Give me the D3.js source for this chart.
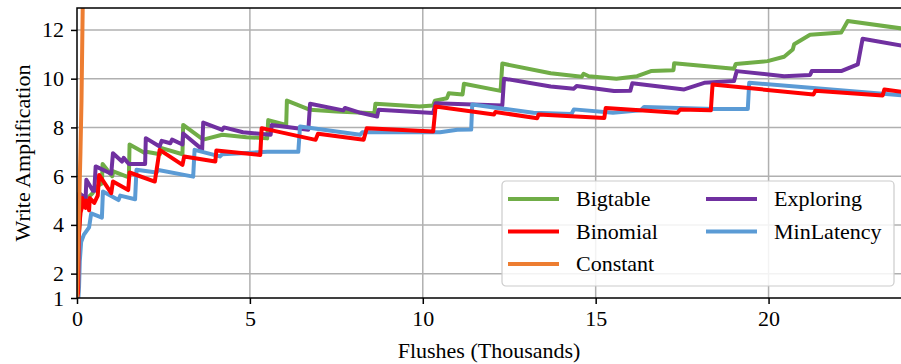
<!DOCTYPE html>
<html>
<head>
<meta charset="utf-8">
<script src="https://cdn.jsdelivr.net/npm/d3@7"></script>
<style>
  body { margin: 0; background: #fff; }
  svg text { font-family: "Liberation Serif", "Times New Roman", serif; fill: #000; }
</style>
</head>
<body>
<div class="graph"></div>
<script>
// Chart size
const width = 901;
const height = 364;
const margin = { top: 8, right: 0, bottom: 66, left: 77 };

// Series (x in thousands of flushes, y = write amplification)
const bigtable = [
  [0, 1], [0.05, 3.5], [0.1, 4.6], [0.2, 5.0], [0.3, 5.1], [0.45, 5.3], [0.6, 5.6], [0.72, 5.7],
  [0.74, 6.5], [1.02, 6.0], [1.05, 6.2], [1.5, 5.95], [1.52, 7.3], [1.96, 6.95], [2.0, 7.0],
  [2.4, 6.9], [2.45, 7.15], [3.05, 6.9], [3.07, 8.1], [3.65, 7.5], [4.2, 7.7], [4.9, 7.6],
  [5.5, 7.55], [5.53, 8.3], [6.05, 8.1], [6.07, 9.1], [6.74, 8.72], [7.5, 8.65], [8.6, 8.58],
  [8.63, 8.97], [9.9, 8.86], [10.3, 8.9], [10.35, 9.1], [10.7, 9.2], [10.75, 9.4], [11.15, 9.35],
  [11.19, 9.79], [12.25, 9.5], [12.3, 10.62], [13.7, 10.22], [14.6, 10.08], [14.65, 10.2],
  [14.8, 10.1], [15.6, 10.0], [16.2, 10.1], [16.6, 10.31], [17.25, 10.35], [17.27, 10.63],
  [19.0, 10.41], [19.05, 10.6], [19.97, 10.72], [20.45, 10.9], [20.7, 11.2], [20.74, 11.41],
  [21.2, 11.8], [22.1, 11.89], [22.29, 12.37], [23.9, 12.05]
];
const binomial = [
  [0, 1], [0.03, 1.2], [0.05, 3.5], [0.1, 4.5], [0.14, 4.7], [0.15, 5.1], [0.25, 4.7], [0.27, 5.0],
  [0.35, 4.6], [0.37, 5.1], [0.5, 4.9], [0.6, 5.2], [0.64, 6.05], [0.99, 5.3], [1.04, 5.78],
  [1.48, 5.43], [1.52, 6.15], [2.25, 5.78], [2.39, 7.08], [3.05, 6.46], [3.1, 6.81], [4.0, 6.6],
  [4.03, 7.05], [5.3, 6.87], [5.34, 7.97], [6.9, 7.49], [6.97, 7.74], [8.29, 7.49], [8.38, 7.97],
  [10.3, 7.83], [10.37, 8.86], [12.06, 8.53], [12.1, 8.63], [13.31, 8.38], [13.35, 8.53],
  [15.25, 8.39], [15.29, 8.8], [17.36, 8.6], [17.45, 8.74], [18.33, 8.7], [18.38, 9.76],
  [21.3, 9.35], [21.35, 9.5], [23.3, 9.31], [23.35, 9.56], [23.9, 9.45]
];
const constant = [
  [0, 1], [0.03, 3], [0.06, 4.7], [0.1, 7], [0.13, 9.1], [0.165, 12.9], [0.19, 14]
];
const exploring = [
  [0, 4.1], [0.05, 4.6], [0.07, 5.3], [0.25, 5.1], [0.27, 5.85], [0.46, 5.4], [0.5, 5.4],
  [0.54, 6.4], [0.99, 6.1], [1.04, 6.94], [1.3, 6.6], [1.35, 6.75], [1.5, 6.5], [1.97, 6.5],
  [1.99, 7.56], [2.39, 7.22], [2.45, 7.45], [2.7, 7.35], [2.75, 7.5], [3.05, 7.3], [3.07, 7.75],
  [3.62, 7.1], [3.65, 8.2], [4.2, 7.9], [4.25, 8.0], [4.8, 7.8], [5.6, 7.7], [5.63, 8.1],
  [6.69, 7.9], [6.74, 8.97], [7.7, 8.7], [7.75, 8.8], [8.2, 8.6], [8.68, 8.45], [8.72, 8.72],
  [10.3, 8.59], [10.37, 8.99], [12.3, 8.9], [12.35, 10.0], [13.7, 9.68], [14.37, 9.59],
  [14.45, 9.7], [15.53, 9.49], [16.0, 9.5], [16.06, 9.81], [17.56, 9.56], [18.14, 9.83],
  [19.0, 9.9], [19.08, 10.31], [20.45, 10.1], [21.2, 10.15], [21.25, 10.31], [22.1, 10.31],
  [22.58, 10.59], [22.72, 11.64], [23.9, 11.34]
];
const minLatency = [
  [0.04, 1], [0.06, 1.5], [0.08, 2.5], [0.12, 3.3], [0.2, 3.6], [0.35, 3.9], [0.41, 4.47],
  [0.72, 4.3], [0.75, 5.37], [1.2, 5.02], [1.25, 5.2], [1.68, 5.05], [1.72, 6.26], [2.3, 6.15],
  [2.35, 6.25], [3.36, 5.98], [3.4, 7.08], [4.13, 6.81], [4.2, 6.9], [5.5, 7.0], [6.4, 7.0],
  [6.45, 8.04], [8.19, 7.7], [8.25, 7.8], [10.5, 7.8], [11.0, 7.9], [11.4, 7.91], [11.43, 8.94],
  [13.2, 8.6], [14.3, 8.55], [14.37, 8.74], [15.5, 8.6], [16.3, 8.7], [16.4, 8.84], [18.43, 8.76],
  [19.4, 8.76], [19.44, 9.83], [23.9, 9.31]
];

// Axis settings
const xTicks = [0, 5, 10, 15, 20];
const yTicks = [1, 2, 4, 6, 8, 10, 12];

// Drawing order matches the figure (orange on top of the others at the start)
const series = [
  { name: "Bigtable", data: bigtable, color: "#70ad47" },
  { name: "Exploring", data: exploring, color: "#7030a0" },
  { name: "MinLatency", data: minLatency, color: "#5b9bd5" },
  { name: "Binomial", data: binomial, color: "#ff0000" },
  { name: "Constant", data: constant, color: "#ed7d31" }
];
const legendOrder = ["Bigtable", "Binomial", "Constant", "Exploring", "MinLatency"];

const fontSize = "22px";

const svg = d3.select(".graph")
  .append("svg")
  .attr("width", width)
  .attr("height", height);

// Scales
const x = d3.scaleLinear().domain([0, 23.83]).range([margin.left, width - margin.right]);
const y = d3.scaleLinear().domain([1, 12.9]).range([height - margin.bottom, margin.top]);

// Gridlines
svg.append("g")
  .selectAll("line")
  .data(xTicks.filter(d => d > 0))
  .join("line")
  .attr("x1", d => x(d)).attr("x2", d => x(d))
  .attr("y1", y.range()[1]).attr("y2", y.range()[0])
  .attr("stroke", "#b0b0b0").attr("stroke-width", 1.5);

svg.append("g")
  .selectAll("line")
  .data(yTicks.filter(d => d > 1))
  .join("line")
  .attr("x1", x.range()[0]).attr("x2", x.range()[1])
  .attr("y1", d => y(d)).attr("y2", d => y(d))
  .attr("stroke", "#b0b0b0").attr("stroke-width", 1.5);

// Clip to plot area
svg.append("clipPath").attr("id", "clip")
  .append("rect")
  .attr("x", x.range()[0]).attr("y", y.range()[1])
  .attr("width", x.range()[1] - x.range()[0])
  .attr("height", y.range()[0] - y.range()[1]);

const line = d3.line().x(d => x(d[0])).y(d => y(d[1]));

svg.append("g")
  .attr("clip-path", "url(#clip)")
  .selectAll("path")
  .data(series)
  .join("path")
  .attr("d", d => line(d.data))
  .attr("fill", "none")
  .attr("stroke", d => d.color)
  .attr("stroke-width", 4)
  .attr("stroke-linejoin", "round");

// Frame
svg.append("rect")
  .attr("x", x.range()[0]).attr("y", y.range()[1])
  .attr("width", x.range()[1] - x.range()[0] + 2)
  .attr("height", y.range()[0] - y.range()[1])
  .attr("fill", "none").attr("stroke", "#000").attr("stroke-width", 1.5);

// Axes
const xAxis = svg.append("g")
  .attr("transform", `translate(0, ${y.range()[0]})`)
  .call(d3.axisBottom(x).tickValues(xTicks).tickSize(6).tickPadding(6));
const yAxis = svg.append("g")
  .attr("transform", `translate(${x.range()[0]}, 0)`)
  .call(d3.axisLeft(y).tickValues(yTicks).tickSize(6).tickPadding(7));

[xAxis, yAxis].forEach(a => {
  a.select(".domain").remove();
  a.selectAll(".tick line").attr("stroke", "#000").attr("stroke-width", 1.5);
  a.selectAll(".tick text")
    .style("font-family", '"Liberation Serif", serif')
    .style("font-size", fontSize);
});

// Axis titles
svg.append("text")
  .attr("x", (x.range()[0] + x.range()[1]) / 2)
  .attr("y", 358)
  .attr("text-anchor", "middle")
  .style("font-size", fontSize)
  .text("Flushes (Thousands)");

svg.append("text")
  .attr("transform", `translate(30, ${(y.range()[0] + y.range()[1]) / 2}) rotate(-90)`)
  .attr("text-anchor", "middle")
  .style("font-size", fontSize)
  .text("Write Amplification");

// Legend
const legend = svg.append("g").attr("transform", "translate(502, 181)");
legend.append("rect")
  .attr("width", 392).attr("height", 105)
  .attr("rx", 4)
  .attr("fill", "#fff").attr("fill-opacity", 0.85)
  .attr("stroke", "#cccccc").attr("stroke-width", 1.2);

const items = legend.selectAll("g.item")
  .data(legendOrder.map(n => series.find(s => s.name === n)))
  .join("g")
  .attr("class", "item")
  .attr("transform", (d, i) => `translate(${i < 3 ? 6 : 204}, ${18 + (i % 3) * 32.5})`);

items.append("line")
  .attr("x1", 0).attr("x2", 51)
  .attr("stroke", d => d.color).attr("stroke-width", 4);

items.append("text")
  .attr("x", 68).attr("y", 7)
  .style("font-size", fontSize)
  .text(d => d.name);
</script>
</body>
</html>
